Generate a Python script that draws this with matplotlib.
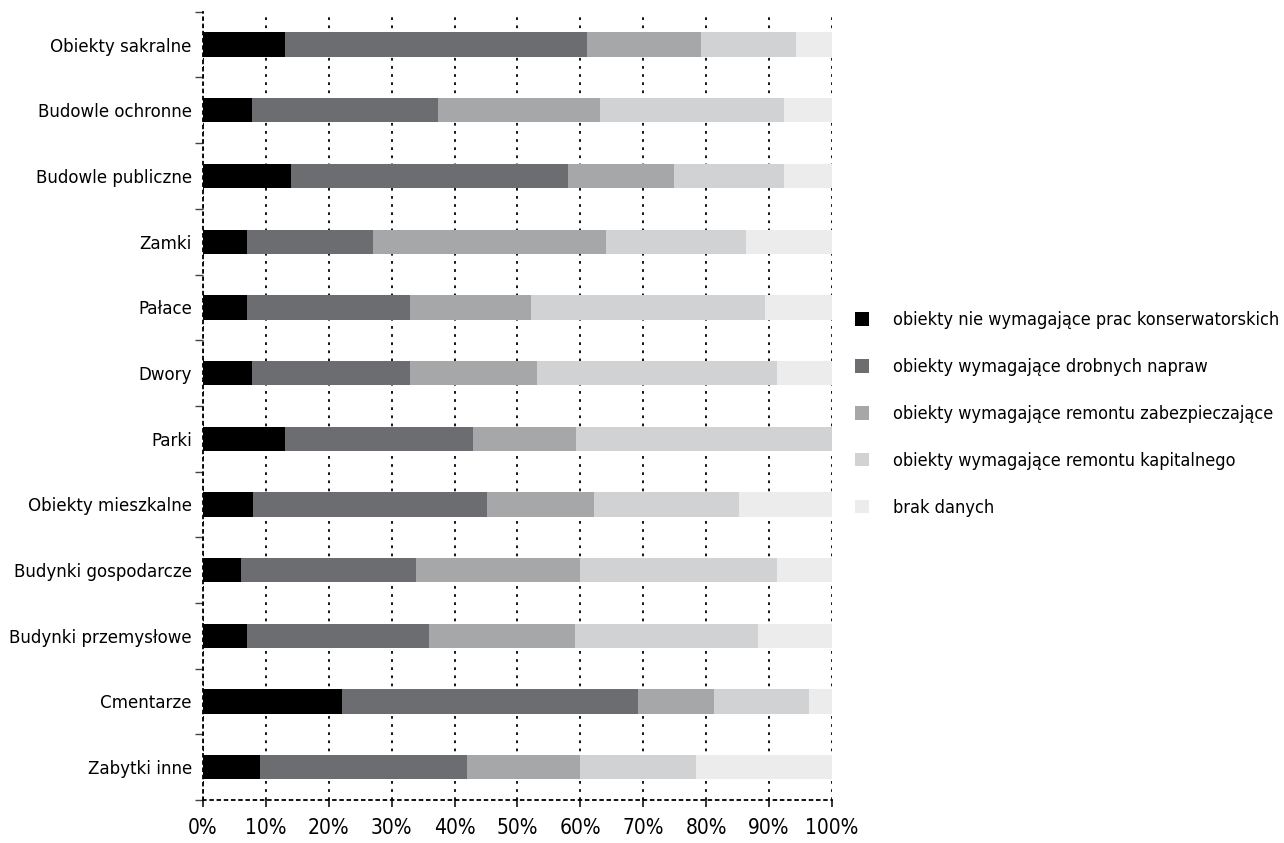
import matplotlib

matplotlib.use("Agg")
import matplotlib.pyplot as plt
import numpy as np

plt.rcParams["font.family"] = ["DejaVu Sans"]
plt.rcParams["font.stretch"] = "condensed"

# Kategorie (od gory) i udzialy procentowe stanu zachowania
categories = [
    "Obiekty sakralne", "Budowle ochronne", "Budowle publiczne", "Zamki",
    "Pałace", "Dwory", "Parki", "Obiekty mieszkalne", "Budynki gospodarcze",
    "Budynki przemysłowe", "Cmentarze", "Zabytki inne",
]
series_names = [
    "obiekty nie wymagające prac konserwatorskich",
    "obiekty wymagające drobnych napraw",
    "obiekty wymagające remontu zabezpieczające",
    "obiekty wymagające remontu kapitalnego",
    "brak danych",
]
bez_prac = [13, 7.8, 14, 7, 7, 7.8, 13, 7.9, 6, 7, 22.1, 9.1]
drobne = [48, 29.6, 44, 20, 25.9, 25.1, 29.9, 37.2, 27.9, 29, 47, 32.9]
zabezp = [18.2, 25.7, 16.9, 37, 19.2, 20.2, 16.4, 17.1, 26.1, 23.2, 12.1, 18]
kapitalne = [15, 29.3, 17.4, 22.3, 37.2, 38.1, 40.7, 23, 31.2, 29, 15.1, 18.4]
brak = [5.8, 7.6, 7.7, 13.7, 10.7, 8.8, 0, 14.8, 8.8, 11.8, 3.7, 21.6]

colors = ["#000000", "#6c6d70", "#a6a7a9", "#d1d2d3", "#ebeceb"]

values = np.array([bez_prac, drobne, zabezp, kapitalne, brak])
y = np.arange(len(categories))

fig = plt.figure(figsize=(12.84, 8.43), dpi=100)
ax = fig.add_axes([0.158, 0.051, 0.490, 0.935])

left = np.zeros(len(categories))
for vals, name, col in zip(values, series_names, colors):
    ax.barh(y, vals, left=left, height=0.37, color=col, label=name, zorder=3)
    left += vals

ax.set_xlim(0, 100)
ax.set_ylim(len(categories) - 0.5, -0.5)
ax.set_yticks(y)
ax.set_yticklabels(categories, fontsize=13.3)
ax.set_yticks(np.arange(len(categories) + 1) - 0.5, minor=True)
ax.tick_params(axis="y", which="major", length=0, pad=8)
ax.tick_params(axis="y", which="minor", length=6, width=1.0, color="#444444")

ax.set_xticks(np.arange(0, 101, 10))
ax.set_xticklabels([f"{v}%" for v in range(0, 101, 10)], fontsize=15)
ax.tick_params(axis="x", length=5, width=1.1, pad=8)

ax.xaxis.grid(True, linestyle=(0, (1.5, 3)), color="black", linewidth=1.3, zorder=0)
ax.set_axisbelow(True)

for side in ["top", "right"]:
    ax.spines[side].set_visible(False)
for side in ["left", "bottom"]:
    ax.spines[side].set_linestyle((0, (1.5, 2.5)))
    ax.spines[side].set_linewidth(1.3)

handles, labels = ax.get_legend_handles_labels()
fig.legend(
    handles, labels, loc="center left", bbox_to_anchor=(0.653, 0.509),
    frameon=False, fontsize=13, handlelength=0.8, handleheight=0.8,
    handletextpad=1.3, labelspacing=1.6,
)

fig.savefig("out.png", dpi=100)
